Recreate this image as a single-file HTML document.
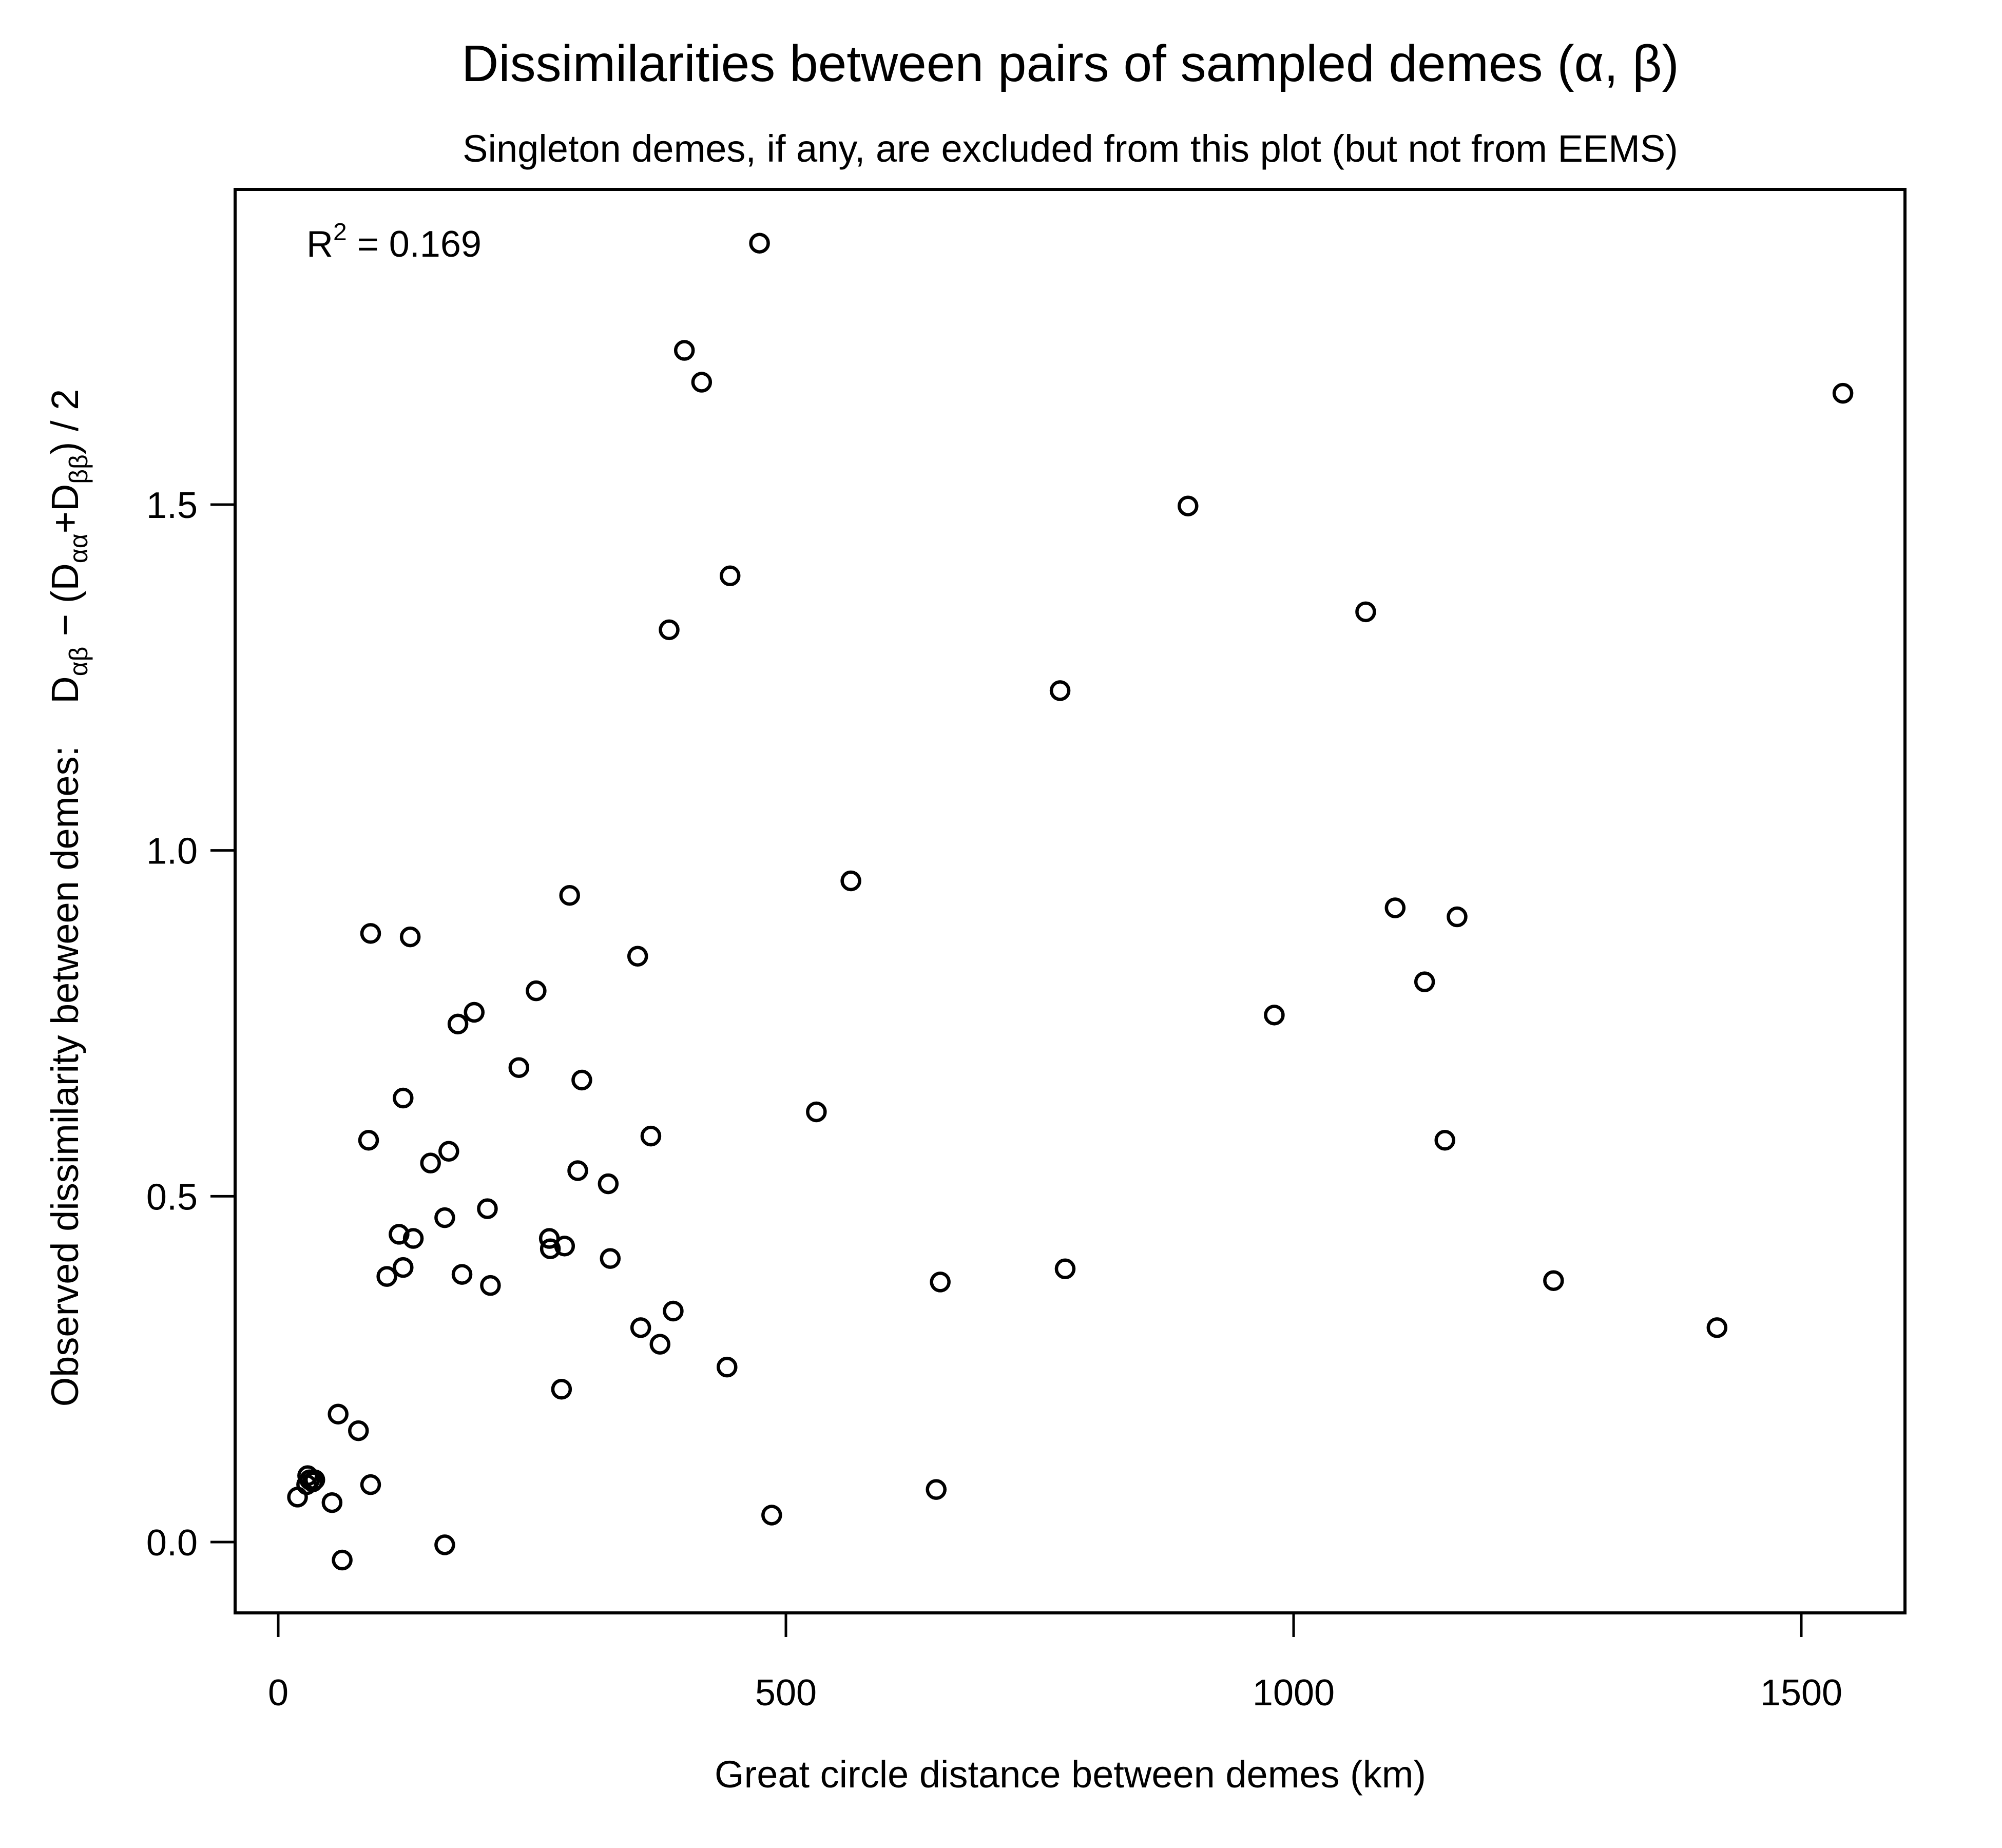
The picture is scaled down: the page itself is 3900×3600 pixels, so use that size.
<!DOCTYPE html>
<html><head><meta charset="utf-8"><style>
html,body{margin:0;padding:0;background:#fff}
svg{display:block}
text{font-family:"Liberation Sans",Arial,sans-serif;fill:#000}
</style></head><body>
<svg id="chart" width="3900" height="3600" viewBox="0 0 3900 3600" xmlns="http://www.w3.org/2000/svg">
<rect width="3900" height="3600" fill="#fff"/>
<text x="2085" y="158" font-size="100" text-anchor="middle">Dissimilarities between pairs of sampled demes (α, β)</text>
<text x="2085" y="315" font-size="74" text-anchor="middle">Singleton demes, if any, are excluded from this plot (but not from EEMS)</text>
<rect x="458" y="369" width="3253" height="2773" fill="none" stroke="#000" stroke-width="6"/>
<g id="xaxis"></g>
<g id="yaxis"></g>
<g id="points"></g>
<text x="2085" y="3482" font-size="74" text-anchor="middle">Great circle distance between demes (km)</text>
<text xml:space="preserve" style="white-space:pre" transform="translate(152,1749) rotate(-90)" font-size="74" text-anchor="middle">Observed dissimilarity between demes:    D<tspan font-size="50" dy="18">αβ</tspan><tspan dy="-18"> − (D</tspan><tspan font-size="50" dy="18">αα</tspan><tspan dy="-18">+D</tspan><tspan font-size="50" dy="18">ββ</tspan><tspan dy="-18">) / 2</tspan></text>
<text x="597" y="500" font-size="72">R<tspan font-size="48" dy="-32">2</tspan><tspan dy="32"> = 0.169</tspan></text>
</svg>
<script>
const xVals = [474,400,417,1541,896,445,385,1071,770,564,287,91,130,354,1100,1161,1129,254,193,177,981,237,299,123,530,367,89,1149,168,150,295,325,206,164,119,133,267,268,282,327,123,181,107,775,652,1256,209,389,357,1417,376,442,279,59,79,29,31,34,36,28,91,19,53,648,486,164,63];
const yVals = [1.878,1.723,1.677,1.661,1.498,1.397,1.319,1.345,1.231,0.956,0.935,0.880,0.875,0.847,0.917,0.904,0.810,0.797,0.766,0.749,0.762,0.686,0.668,0.642,0.622,0.587,0.581,0.581,0.565,0.548,0.537,0.518,0.482,0.469,0.445,0.439,0.439,0.424,0.428,0.410,0.397,0.387,0.384,0.395,0.376,0.378,0.371,0.334,0.310,0.310,0.286,0.253,0.221,0.185,0.161,0.096,0.090,0.087,0.090,0.083,0.083,0.065,0.057,0.076,0.039,-0.004,-0.026];
const xTicks = [0,500,1000,1500];
const xTickLabels = ["0","500","1000","1500"];
const yTicks = [0,0.5,1.0,1.5];
const yTickLabels = ["0.0","0.5","1.0","1.5"];

const NS = "http://www.w3.org/2000/svg";
function xs(v){ return 542 + v * (3509 - 542) / 1500; }
function ys(v){ return 3004 - v * (3004 - 983) / 1.5; }
function mk(tag, attrs, parent){
  const e = document.createElementNS(NS, tag);
  for (const k in attrs) e.setAttribute(k, attrs[k]);
  parent.appendChild(e);
  return e;
}
const xg = document.getElementById('xaxis');
mk('line',{x1:xs(xTicks[0]),x2:xs(xTicks[xTicks.length-1]),y1:3142,y2:3142,stroke:'#000','stroke-width':5},xg);
xTicks.forEach((t,i)=>{
  const l = mk('line',{x1:xs(t),x2:xs(t),y1:3142,y2:3189,stroke:'#000','stroke-width':5},xg);
  
  
  const tx = mk('text',{x:xs(t),y:3322,'font-size':72,'text-anchor':'middle'},xg);
  tx.textContent = xTickLabels[i];
  
  
});
const yg = document.getElementById('yaxis');
yTicks.forEach((t,i)=>{
  const l = mk('line',{x1:410,x2:458,y1:ys(t),y2:ys(t),stroke:'#000','stroke-width':5},yg);
  
  
  const tx = mk('text',{x:385,y:ys(t)+26,'font-size':72,'text-anchor':'end'},yg);
  tx.textContent = yTickLabels[i];
  
  
});
const pg = document.getElementById('points');
xVals.forEach((x,i)=>{
  const c = mk('circle',{cx:xs(x),cy:ys(yVals[i]),r:17,fill:'none',stroke:'#000','stroke-width':6.5},pg);
  
  
});
</script>
</body></html>
